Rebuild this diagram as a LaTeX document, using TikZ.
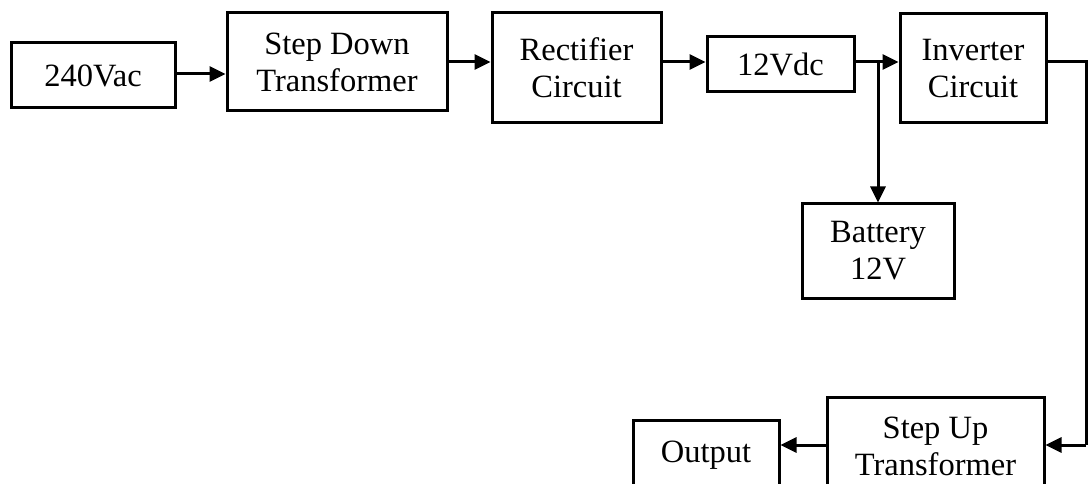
\documentclass[tikz,border=0pt]{standalone}
\usepackage{fontspec}
\setmainfont{Liberation Serif}
\usetikzlibrary{arrows.meta}
\begin{document}
\begin{tikzpicture}[x=1pt,y=-1pt,
  blk/.style={draw=black, line width=3pt, align=center, inner sep=0pt,
    font=\fontsize{32.5}{37}\selectfont},
  conn/.style={draw=black, line width=3pt, -{Triangle[length=16pt,width=15pt]}},
  wire/.style={draw=black, line width=3pt}]
\useasboundingbox (0,0) rectangle (1088,484);
\clip (0,0) rectangle (1088,484);
\fill[white] (0,0) rectangle (1088,484);

\node[blk, minimum width=164pt, minimum height=65pt] (ac) at (93,75.5) {240Vac};
\node[blk, minimum width=220pt, minimum height=98pt] (sd) at (337,62) {Step Down\\Transformer};
\node[blk, minimum width=169pt, minimum height=110pt] (rc) at (576.5,68) {Rectifier\\Circuit};
\node[blk, minimum width=147pt, minimum height=55pt] (dc) at (780.5,64.5) {12Vdc};
\node[blk, minimum width=146pt, minimum height=109pt] (inv) at (973,68.5) {Inverter\\Circuit};
\node[blk, minimum width=152pt, minimum height=94pt] (bat) at (878,251) {Battery\\12V};
\node[blk, minimum width=217pt, minimum height=98pt] (su) at (935.5,446) {Step Up\\Transformer};
\node[blk, minimum width=146pt, minimum height=70pt] (out) at (706,455) {Output};

\coordinate (row) at (0,62);
\coordinate (jn) at (878,62);
\coordinate (rt) at (1086,62);
\coordinate (rb) at (1086,445);

\draw[conn] (ac.east |- 0,74) -- (sd.west |- 0,74);
\draw[conn] (sd.east |- row) -- (rc.west |- row);
\draw[conn] (rc.east |- row) -- (dc.west |- row);
\draw[conn] (dc.east |- row) -- (inv.west |- row);
\draw[conn] (jn) -- (bat.north);
\draw[wire] (inv.east |- row) -- (rt) -- (rb);
\draw[conn] (rb) -- (su.east |- rb);
\draw[conn] (su.west |- rb) -- (out.east |- rb);
\end{tikzpicture}
\end{document}
